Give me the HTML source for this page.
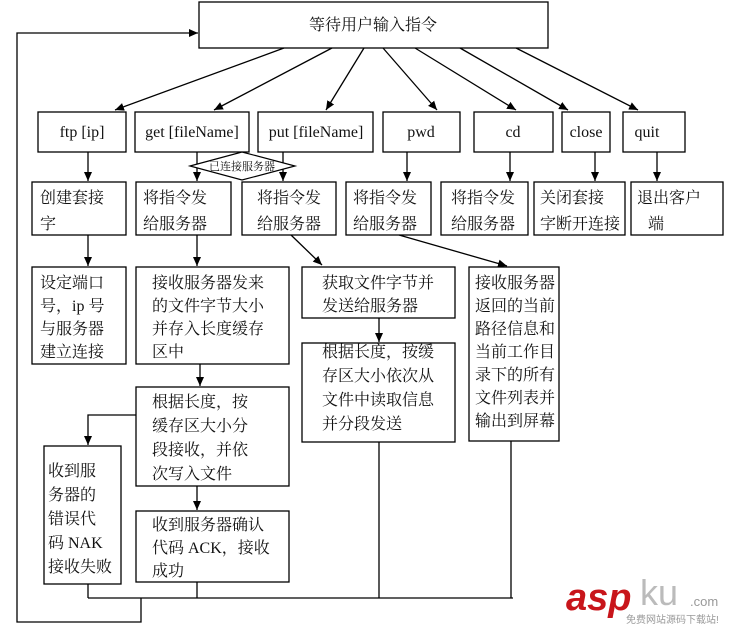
<!DOCTYPE html>
<html><head><meta charset="utf-8"><style>
html,body{margin:0;padding:0;background:#fff;}
svg{display:block;}
text{font-family:"Liberation Serif","Noto Serif CJK SC",serif;font-size:16px;fill:#111;}
</style></head><body>
<svg width="735" height="630" viewBox="0 0 735 630" xmlns="http://www.w3.org/2000/svg">
<defs><marker id="a" markerWidth="10" markerHeight="10" refX="9" refY="5" orient="auto" markerUnits="userSpaceOnUse"><path d="M0,1 L9,5 L0,9 z" fill="#000"/></marker></defs>
<g fill="#fff" stroke="#000" stroke-width="1.3">
<rect x="199" y="2" width="349" height="46"/>
<rect x="38" y="112" width="88" height="40"/>
<rect x="135" y="112" width="114" height="40"/>
<rect x="258" y="112" width="115" height="40"/>
<rect x="383" y="112" width="77" height="40"/>
<rect x="474" y="112" width="79" height="40"/>
<rect x="562" y="112" width="48" height="40"/>
<rect x="623" y="112" width="62" height="40"/>
<rect x="32" y="182" width="94" height="53"/>
<rect x="136" y="182" width="95" height="53"/>
<rect x="242" y="182" width="94" height="53"/>
<rect x="346" y="182" width="85" height="53"/>
<rect x="441" y="182" width="87" height="53"/>
<rect x="534" y="182" width="91" height="53"/>
<rect x="631" y="182" width="92" height="53"/>
<rect x="32" y="267" width="94" height="97"/>
<rect x="136" y="267" width="153" height="97"/>
<rect x="302" y="267" width="153" height="51"/>
<rect x="469" y="267" width="90" height="174"/>
<rect x="302" y="343" width="153" height="99"/>
<rect x="136" y="387" width="153" height="99"/>
<rect x="44" y="446" width="77" height="138"/>
<rect x="136" y="511" width="153" height="71"/>
</g>
<g stroke="#000" stroke-width="1.3" fill="none">
<line x1="284" y1="48" x2="115" y2="110" marker-end="url(#a)"/>
<line x1="332" y1="48" x2="214" y2="110" marker-end="url(#a)"/>
<line x1="364" y1="48" x2="326" y2="110" marker-end="url(#a)"/>
<line x1="383" y1="48" x2="437" y2="110" marker-end="url(#a)"/>
<line x1="415" y1="48" x2="516" y2="110" marker-end="url(#a)"/>
<line x1="460" y1="48" x2="568" y2="110" marker-end="url(#a)"/>
<line x1="516" y1="48" x2="638" y2="110" marker-end="url(#a)"/>
<line x1="88" y1="152" x2="88" y2="181" marker-end="url(#a)"/>
<line x1="197" y1="152" x2="197" y2="181" marker-end="url(#a)"/>
<line x1="283" y1="152" x2="283" y2="181" marker-end="url(#a)"/>
<line x1="407" y1="152" x2="407" y2="181" marker-end="url(#a)"/>
<line x1="510" y1="152" x2="510" y2="181" marker-end="url(#a)"/>
<line x1="595" y1="152" x2="595" y2="181" marker-end="url(#a)"/>
<line x1="657" y1="152" x2="657" y2="181" marker-end="url(#a)"/>
<line x1="88" y1="235" x2="88" y2="266" marker-end="url(#a)"/>
<line x1="197" y1="235" x2="197" y2="266" marker-end="url(#a)"/>
<line x1="291" y1="235" x2="322" y2="265" marker-end="url(#a)"/>
<line x1="399" y1="235" x2="507" y2="266" marker-end="url(#a)"/>
<line x1="200" y1="364" x2="200" y2="386" marker-end="url(#a)"/>
<line x1="379" y1="318" x2="379" y2="342" marker-end="url(#a)"/>
<line x1="197" y1="486" x2="197" y2="510" marker-end="url(#a)"/>
<polyline points="136,415 88,415 88,445" marker-end="url(#a)"/>
<line x1="88" y1="584" x2="88" y2="598"/>
<line x1="197" y1="582" x2="197" y2="598"/>
<line x1="379" y1="442" x2="379" y2="598"/>
<line x1="511" y1="441" x2="511" y2="598"/>
<line x1="88" y1="598" x2="513" y2="598"/>
<polyline points="141,598 141,622 17,622 17,33 198,33" marker-end="url(#a)"/>
</g>
<polygon points="190,166 242,152 295,166 242,180" fill="#fff" stroke="#000" stroke-width="1.2"/>
<text x="242" y="170" text-anchor="middle" style="font-size:11px">已连接服务器</text>
<text x="373" y="30" text-anchor="middle">等待用户输入指令</text>
<text x="82" y="137" text-anchor="middle">ftp [ip]</text>
<text x="192" y="137" text-anchor="middle">get [fileName]</text>
<text x="316" y="137" text-anchor="middle">put [fileName]</text>
<text x="421" y="137" text-anchor="middle">pwd</text>
<text x="513" y="137" text-anchor="middle">cd</text>
<text x="586" y="137" text-anchor="middle">close</text>
<text x="647" y="137" text-anchor="middle">quit</text>
<g>
<text x="40" y="203">创建套接</text><text x="40" y="229">字</text>
<text x="143" y="203">将指令发</text><text x="143" y="229">给服务器</text>
<text x="257" y="203">将指令发</text><text x="257" y="229">给服务器</text>
<text x="353" y="203">将指令发</text><text x="353" y="229">给服务器</text>
<text x="451" y="203">将指令发</text><text x="451" y="229">给服务器</text>
<text x="540" y="203">关闭套接</text><text x="540" y="229">字断开连接</text>
<text x="637" y="203">退出客户</text><text x="648" y="229">端</text>
<text x="40" y="288">设定端口</text><text x="40" y="311">号，ip 号</text><text x="40" y="334">与服务器</text><text x="40" y="357">建立连接</text>
<text x="152" y="288">接收服务器发来</text><text x="152" y="311">的文件字节大小</text><text x="152" y="334">并存入长度缓存</text><text x="152" y="357">区中</text>
<text x="322" y="288">获取文件字节并</text><text x="322" y="311">发送给服务器</text>
<text x="475" y="288">接收服务器</text><text x="475" y="311">返回的当前</text><text x="475" y="334">路径信息和</text><text x="475" y="357">当前工作目</text><text x="475" y="380">录下的所有</text><text x="475" y="403">文件列表并</text><text x="475" y="426">输出到屏幕</text>
<text x="322" y="357">根据长度，按缓</text><text x="322" y="381">存区大小依次从</text><text x="322" y="405">文件中读取信息</text><text x="322" y="429">并分段发送</text>
<text x="152" y="407">根据长度，按</text><text x="152" y="431">缓存区大小分</text><text x="152" y="455">段接收，并依</text><text x="152" y="479">次写入文件</text>
<text x="48" y="476">收到服</text><text x="48" y="500">务器的</text><text x="48" y="524">错误代</text><text x="48" y="548">码 NAK</text><text x="48" y="572">接收失败</text>
<text x="152" y="530">收到服务器确认</text><text x="152" y="553">代码 ACK，接收</text><text x="152" y="576">成功</text>
</g>
<text x="566" y="610" style="font-family:'Liberation Sans',sans-serif;font-size:38px;font-weight:bold;font-style:italic;fill:#c8151b">asp</text>
<text x="640" y="605" style="font-family:'Liberation Sans',sans-serif;font-size:36px;fill:#bbb">ku</text>
<text x="690" y="606" style="font-family:'Liberation Sans',sans-serif;font-size:13px;fill:#999">.com</text>
<text x="626" y="623" style="font-family:'Liberation Sans','Noto Sans CJK SC',sans-serif;font-size:10px;fill:#999">免费网站源码下载站!</text>
</svg>
</body></html>
